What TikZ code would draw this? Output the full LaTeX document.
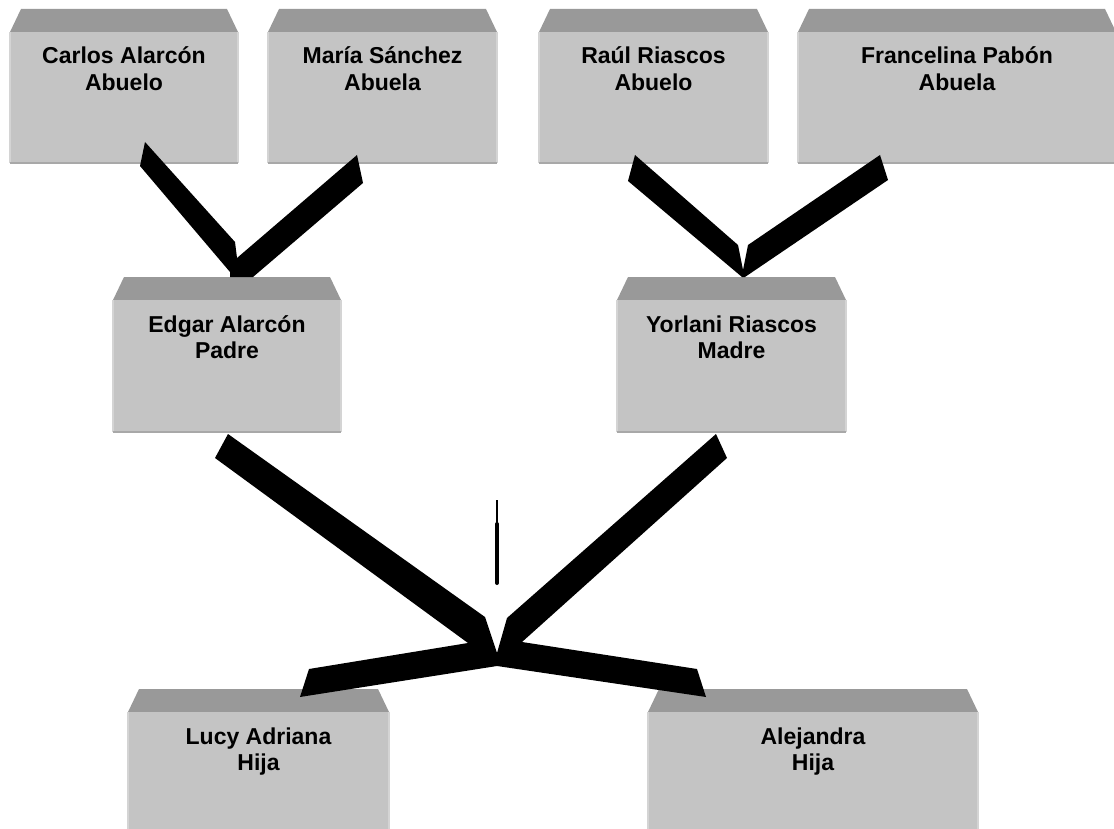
\documentclass[tikz,border=0pt]{standalone}
\usepackage{fontspec}
\setmainfont{Liberation Sans}
\definecolor{facegray}{HTML}{C4C4C4}
\definecolor{topgray}{HTML}{999999}
\definecolor{sidegray}{HTML}{D4D4D4}
\definecolor{bottomgray}{HTML}{A8A8A8}
\tikzset{
  face/.style={rectangle, fill=facegray, draw=none, inner sep=0pt, outer sep=0pt},
  trapfill/.style={fill=topgray},
  sideline/.style={draw=sidegray, line width=1.2pt},
  bottomline/.style={draw=bottomgray, line width=1.4pt},
  nametext/.style={align=center, anchor=base, inner sep=0pt,
    font=\fontsize{23}{26.5}\selectfont\bfseries},
  connfill/.style={fill=black},
  thinmark/.style={draw=black, line width=2.3pt},
  thickmark/.style={draw=black, line width=4pt, line cap=round}
}
% #1 name, #2 x left, #3 x right, #4 y top of bevel, #5 y bottom, #6 text
\newcommand\famcard[6]{%
  \fill[trapfill] (#2+11,#4) -- (#3-11,#4) -- (#3,#4+23) -- (#2,#4+23) -- cycle;
  \node[face, minimum width={#3-#2}, minimum height={#5-#4-23}, anchor=north west] (#1) at (#2,#4+23) {};
  \draw[sideline] (#1.north west) -- (#1.south west);
  \draw[sideline] (#1.north east) -- (#1.south east);
  \draw[bottomline] (#1.south west) -- (#1.south east);
  \node[nametext] (#1-t) at ([yshift=-58.5pt]#1.north) {#6};
}
\begin{document}
\begin{tikzpicture}[x=1pt,y=-1pt]
\useasboundingbox (0,0) rectangle (1114,829);
% boxes
\famcard{carlos}{10}{238}{9}{163}{Carlos Alarcón\\Abuelo}
\famcard{maria}{268}{497}{9}{163}{María Sánchez\\Abuela}
\famcard{raul}{539}{768}{9}{163}{Raúl Riascos\\Abuelo}
\famcard{francelina}{798}{1116}{9}{163}{Francelina Pabón\\Abuela}
\famcard{edgar}{113}{341}{277}{432}{Edgar Alarcón\\Padre}
\famcard{yorlani}{617}{846}{277}{432}{Yorlani Riascos\\Madre}
\famcard{lucy}{128}{389}{689}{832}{Lucy Adriana\\Hija}
\famcard{alejandra}{648}{978}{689}{832}{Alejandra\\Hija}
% junctions
\coordinate (jA) at (240,277);
\coordinate (jB) at (743,277);
\coordinate (jC) at (497,666);
% connector grandparents (Alarcón) -> Edgar
\fill[connfill] (145,142) -- (235,242) -- (237,258) -- (357,155) -- (363,183)
  -- (253,277) -- (230,277) -- (230,272) -- (140,166) -- cycle;
% connector grandparents (Riascos) -> Yorlani
\fill[connfill] (635,155) -- (738,245) -- (743,270) -- (748,245) -- (880,155)
  -- (888,180) -- (745,277) -- (742,277) -- (628,181) -- cycle;
% connector parents -> daughters
\fill[connfill] (228,434) -- (485,617) -- (497,653) -- (507,618) -- (716,434)
  -- (727,458) -- (522,642) -- (697,669) -- (706,697) -- (jC)
  -- (300,697) -- (309,669) -- (468,643) -- (215,458) -- cycle;
% small vertical mark
\coordinate (vt) at (497,500);
\coordinate (vm) at (497,524);
\coordinate (vb) at (497,583);
\draw[thinmark] (vt) -- (vm);
\draw[thickmark] (vm) -- (vb);
\end{tikzpicture}
\end{document}
